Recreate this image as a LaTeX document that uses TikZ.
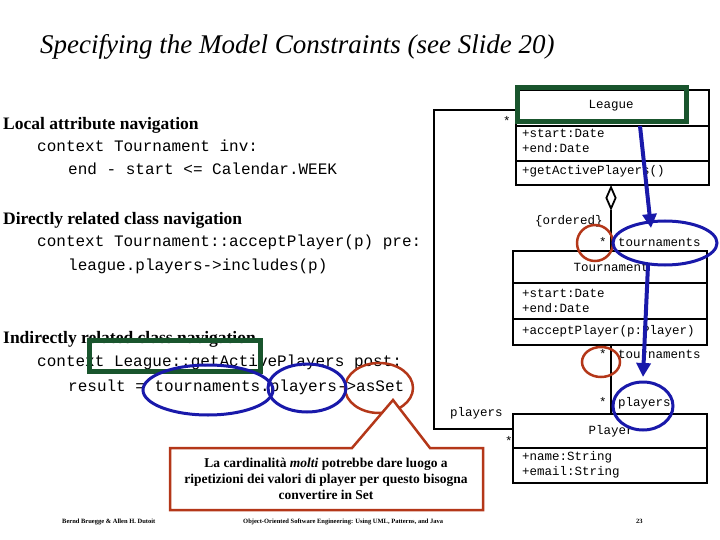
\documentclass[tikz,border=0pt]{standalone}
\usepackage{fontspec}
\setmainfont{Liberation Serif}
\setmonofont{Liberation Mono}
\usetikzlibrary{arrows.meta,shapes.geometric}
\definecolor{ublue}{RGB}{25,25,170}
\definecolor{ured}{RGB}{180,55,25}
\definecolor{ugreen}{RGB}{25,85,45}
\tikzset{
 hd/.style={anchor=base west,inner sep=0,font=\fontsize{17.5}{20}\selectfont\bfseries},
 cd/.style={anchor=base west,inner sep=0,font=\fontsize{16}{18}\ttfamily},
 um/.style={anchor=base west,inner sep=0,font=\fontsize{12.5}{15}\ttfamily},
 box/.style={draw,line width=2.2pt},
 bl/.style={draw=ublue,line width=3pt},
 rd/.style={draw=ured,line width=2.5pt},
 gr/.style={draw=ugreen,line width=5pt},
 barr/.style={ublue,line width=4pt,-{Triangle[length=14pt,width=14pt]}}
}
\begin{document}
\begin{tikzpicture}[x=1pt,y=-1pt]
\useasboundingbox (0,0) rectangle (720,540);
\node[anchor=base west,inner sep=0,font=\fontsize{27}{30}\selectfont\itshape] (title) at (40,54) {Specifying the Model Constraints (see Slide 20)};
% left text
\node[hd] (h1) at (3,130) {Local attribute navigation};
\node[cd] (c1) at (37,152) {context Tournament inv:};
\node[cd] (c2) at (68,175) {end - start <= Calendar.WEEK};
\node[hd] (h2) at (3,225) {Directly related class navigation};
\node[cd] (c3) at (37,247) {context Tournament::acceptPlayer(p) pre:};
\node[cd] (c4) at (68,270) {league.players->includes(p)};
\node[hd] (h3) at (3,343) {Indirectly related class navigation};
\node[cd] (c5) at (37,366) {context League::getActivePlayers post:};
\node[cd] (c6) at (68,391) {result = tournaments.players->asSet};
% classes
\draw[box] (516,90) rectangle (709,185);
\draw[box] (516,126) -- (709,126) (516,161) -- (709,161);
\node[anchor=center,font=\fontsize{12.5}{15}\ttfamily] (league) at (611,106) {League};
\node[um] (la1) at (522,138) {+start:Date};
\node[um] (la2) at (522,153) {+end:Date};
\node[um] (lo) at (522,175) {+getActivePlayers()};
\draw[box] (513,251) rectangle (707,345);
\draw[box] (513,283) -- (707,283) (513,319) -- (707,319);
\node[anchor=center,font=\fontsize{12.5}{15}\ttfamily] (tour) at (611,267) {Tournament};
\node[um] (ta1) at (522,297) {+start:Date};
\node[um] (ta2) at (522,312) {+end:Date};
\node[um] (to) at (522,334) {+acceptPlayer(p:Player)};
\draw[box] (513,414) rectangle (707,483);
\draw[box] (513,448) -- (707,448);
\node[anchor=center,font=\fontsize{12.5}{15}\ttfamily] (player) at (611,431) {Player};
\node[um] (pa1) at (522,460) {+name:String};
\node[um] (pa2) at (522,475) {+email:String};
% associations
\node[draw,diamond,line width=1.8pt,fill=white,minimum width=10pt,minimum height=22pt,inner sep=0,anchor=north] (dia) at (611,186) {};
\draw[line width=2.2pt] (dia.south) -- (611,251);
\draw[line width=2.2pt] (611,345) -- (611,414);
\draw[line width=2.2pt] (516,110) -- (434,110) -- (434,429) -- (513,429);
\node[um] (s1) at (503,126) {*};
\node[um] (o1) at (535,225) {\{ordered\}};
\node[um] (s2) at (599,247) {*};
\node[um] (t1) at (618,247) {tournaments};
\node[um] (s3) at (599,358) {*};
\node[um] (t2) at (618,358) {tournaments};
\node[um] (s4) at (599,406) {*};
\node[um] (p1) at (618,406) {players};
\node[um] (p2) at (450,416) {players};
\node[um] (s5) at (505,445) {*};
% highlights
\draw[gr] (517,88) rectangle (686,122);
\draw[gr] (89,340) rectangle (260,371);
\draw[rd] (595,243) ellipse (18 and 18);
\draw[rd] (601,362) ellipse (19 and 15);
\draw[rd] (379,388) ellipse (34 and 25);
\draw[bl] (665,243) ellipse (52 and 22);
\draw[bl] (643,406) ellipse (30 and 24);
\draw[bl] (208,390) ellipse (65 and 25);
\draw[bl] (307,388) ellipse (39 and 24);
\draw[barr] (640,126) -- (651,228);
\draw[barr] (648,265) -- (643,377);
% callout
\draw[ured,line width=2.5pt,fill=white] (170,448) -- (352,448) -- (393,400) -- (430,448) -- (483,448) -- (483,510) -- (170,510) -- cycle;
\node[align=center,font=\fontsize{13.5}{16}\selectfont\bfseries,inner sep=0] (note) at (326,479) {La cardinalità \textit{molti} potrebbe dare luogo a\\ripetizioni dei valori di player per questo bisogna\\convertire in Set};
% footer
\node[anchor=base west,inner sep=0,font=\fontsize{6.5}{8}\selectfont\bfseries] (f1) at (62,523) {Bernd Bruegge \& Allen H. Dutoit};
\node[anchor=base west,inner sep=0,font=\fontsize{6.5}{8}\selectfont\bfseries] (f2) at (243,523) {Object-Oriented Software Engineering: Using UML, Patterns, and Java};
\node[anchor=base west,inner sep=0,font=\fontsize{6.5}{8}\selectfont\bfseries] (f3) at (636,523) {23};
\end{tikzpicture}
\end{document}
